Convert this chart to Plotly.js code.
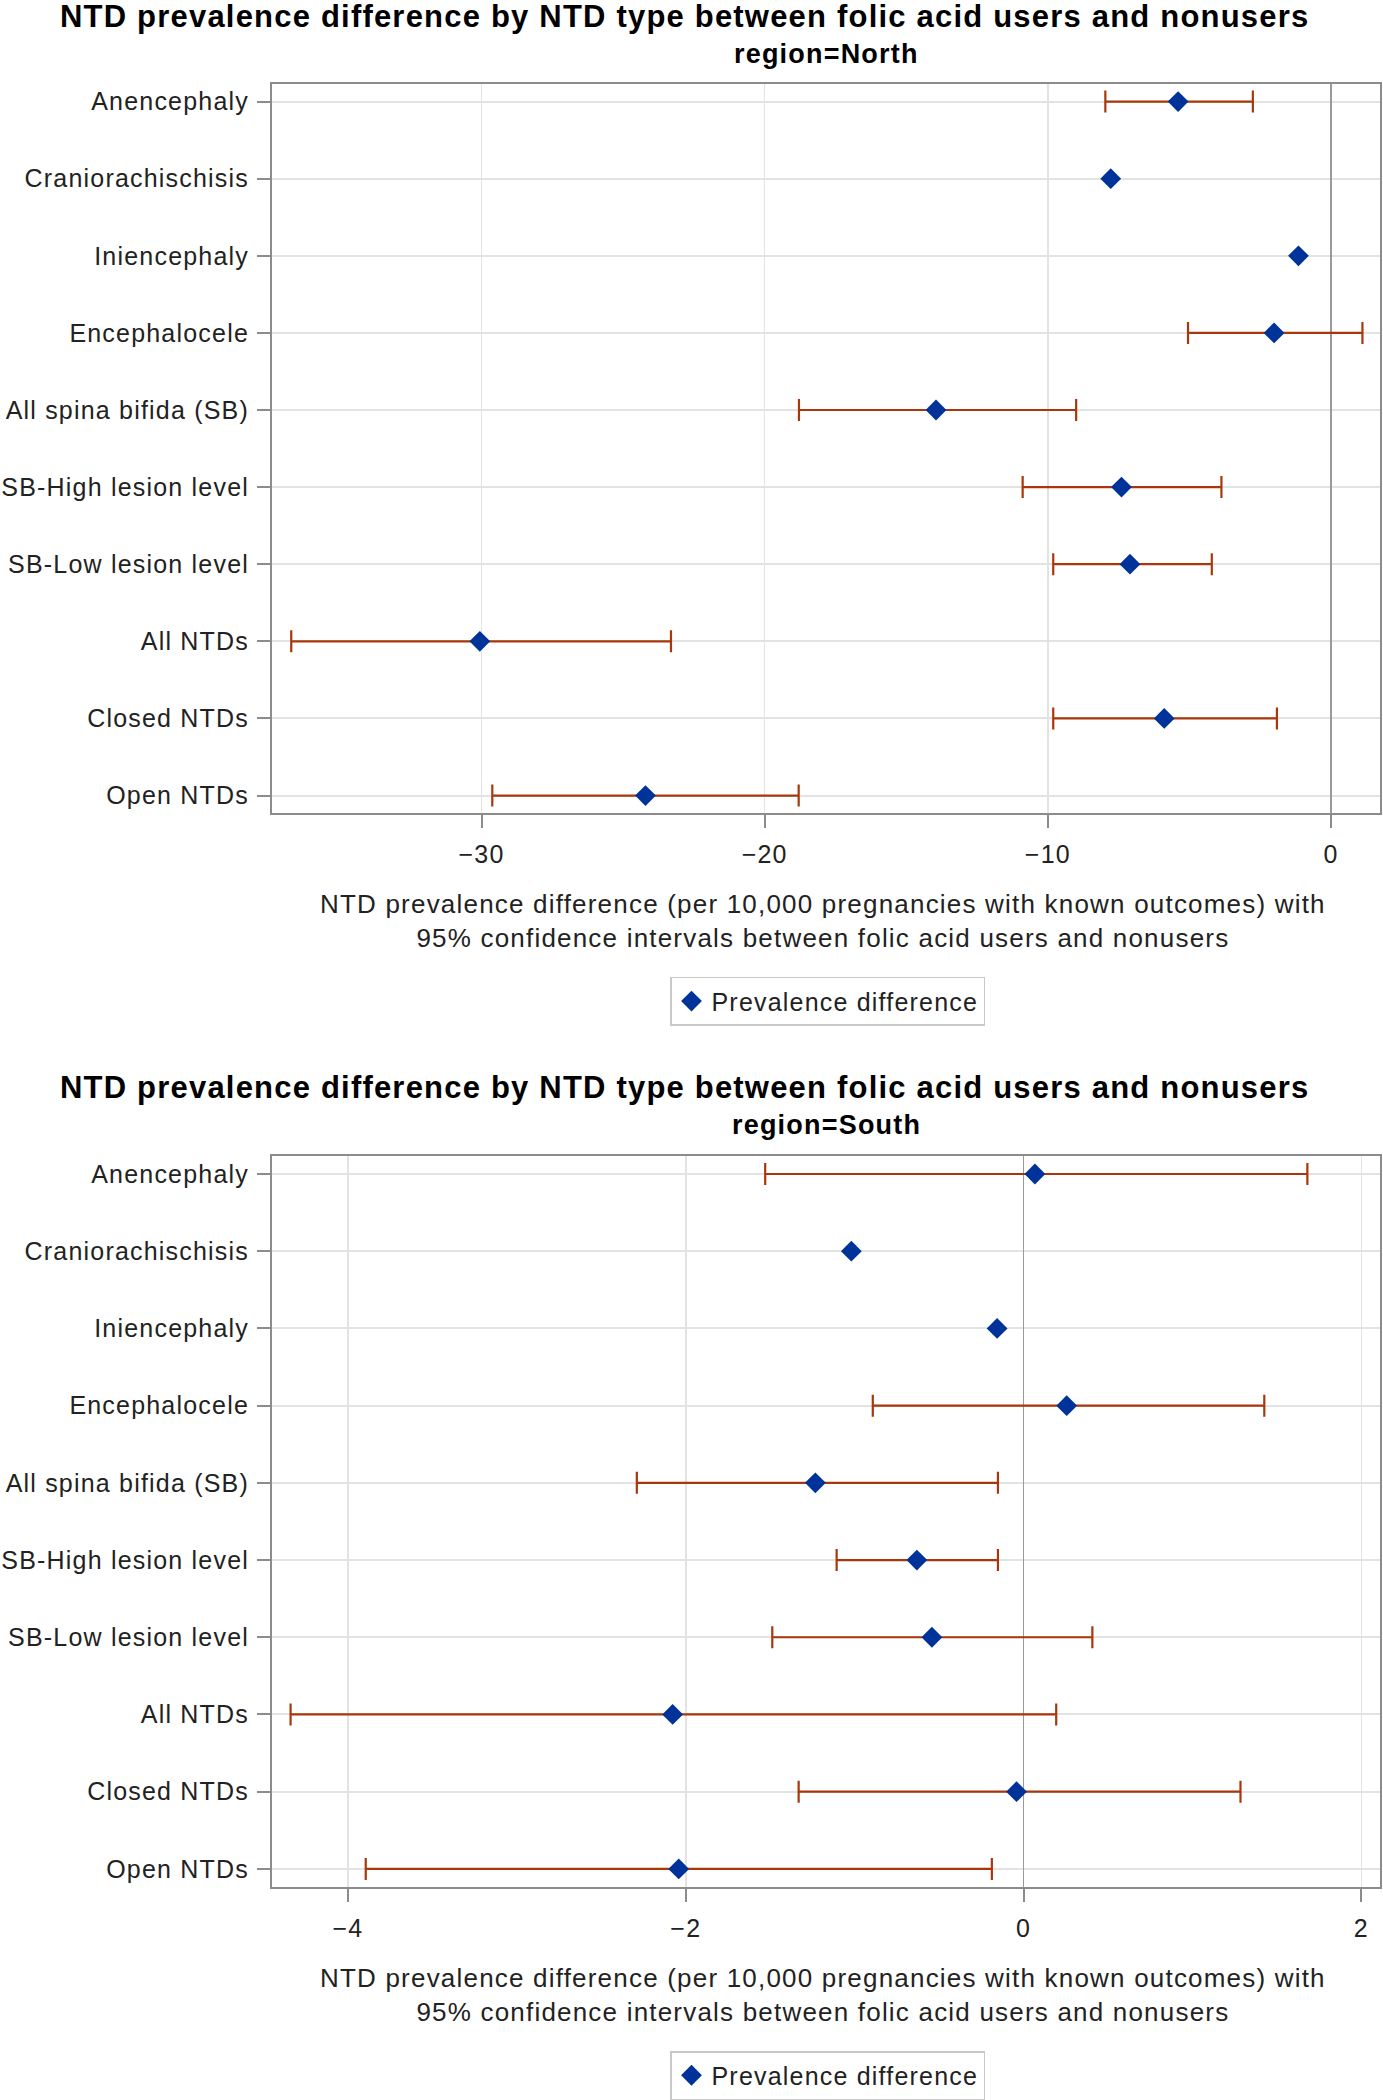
<!DOCTYPE html>
<html>
<head>
<meta charset="utf-8">
<script src="https://cdn.plot.ly/plotly-3.0.1.min.js"></script>
<style>
  html, body { margin:0; padding:0; background:#fff; }
  svg text { letter-spacing: 1.2px; }
</style>
</head>
<body>
<div id="chart" style="width:1383px;height:2100px;"></div>
<script>
// ---- Data ----
const categories = ["Anencephaly", "Craniorachischisis", "Iniencephaly", "Encephalocele",
  "All spina bifida (SB)", "SB-High lesion level", "SB-Low lesion level",
  "All NTDs", "Closed NTDs", "Open NTDs"];

const northEstimate = [-5.40, -7.78, -1.15, -2.01, -13.95, -7.40, -7.10, -30.06, -5.89, -24.21];
const northLower    = [-7.97, null,  null,  -5.05, -18.79, -10.89, -9.81, -36.72, -9.81, -29.62];
const northUpper    = [-2.76, null,  null,   1.11,  -9.00,  -3.87, -4.21, -23.31, -1.91, -18.80];

const southEstimate = [0.067, -1.02, -0.157, 0.255, -1.233, -0.632, -0.543, -2.078, -0.042, -2.042];
const southLower    = [-1.53, null,  null,  -0.893, -2.29, -1.107, -1.488, -4.34, -1.332, -3.895];
const southUpper    = [1.68,  null,  null,   1.425, -0.152, -0.152, 0.407, 0.193, 1.284, -0.188];

const northTicks = [-30, -20, -10, 0];
const southTicks = [-4, -2, 0, 2];

const mainTitle = "NTD prevalence difference by NTD type between folic acid users and nonusers";
const northSub = "region=North";
const southSub = "region=South";
const xTitle = "NTD prevalence difference (per 10,000 pregnancies with known outcomes) with<br>95% confidence intervals between folic acid users and nonusers";
const seriesName = "Prevalence difference";

// ---- Styling ----
const W = 1383, H = 2100;
const FONT = "Liberation Sans, Arial, Helvetica, sans-serif";
const markerColor = "#003399";
const errColor = "#A8380C";
const borderColor = "#8c8c8c";
const gridColor = "#e3e3e3";

function errPlus(est, up) { return est.map((v, i) => up[i] == null ? NaN : up[i] - v); }
function errMinus(est, lo) { return est.map((v, i) => lo[i] == null ? NaN : v - lo[i]); }

function mkTrace(est, lo, up, xa, ya, leg) {
  return {
    type: "scatter", mode: "markers",
    x: est, y: categories, xaxis: xa, yaxis: ya, legend: leg,
    name: seriesName, showlegend: true, hoverinfo: "x+y",
    marker: { symbol: "diamond", size: 16, color: markerColor },
    error_x: { type: "data", symmetric: false, array: errPlus(est, up), arrayminus: errMinus(est, lo),
               color: errColor, thickness: 2.2, width: 11 }
  };
}

const px2x = p => p / W;
const py2y = p => 1 - p / H;

function xAxis(range, ticks, anchor) {
  return {
    domain: [px2x(272), px2x(1380)], anchor: anchor, range: range, autorange: false,
    tickvals: ticks, ticktext: ticks.map(t => t < 0 ? "\u2212" + Math.abs(t) : String(t)),
    ticks: "outside", ticklen: 13, tickwidth: 2, tickcolor: borderColor,
    showline: true, mirror: true, linecolor: borderColor, linewidth: 2,
    showgrid: true, gridcolor: gridColor, gridwidth: 1.5,
    zeroline: true, zerolinecolor: "#9a9a9a", zerolinewidth: 1.5,
    tickfont: { family: FONT, size: 25, color: "#222" }, ticklabelstandoff: 5,
    fixedrange: true
  };
}
function yAxis(top, bottom, anchor) {
  return {
    domain: [py2y(bottom), py2y(top)], anchor: anchor, type: "category",
    categoryorder: "array", categoryarray: categories,
    range: [categories.length - 1 + 0.233, -0.233], autorange: false,
    ticks: "outside", ticklen: 13, tickwidth: 2, tickcolor: borderColor,
    showline: true, mirror: true, linecolor: borderColor, linewidth: 2,
    showgrid: true, gridcolor: gridColor, gridwidth: 2,
    tickfont: { family: FONT, size: 25, color: "#222" }, ticklabelstandoff: 3,
    fixedrange: true
  };
}

function legendAt(xpx, ypx) {
  return {
    x: px2x(xpx), y: py2y(ypx), xanchor: "left", yanchor: "top",
    bordercolor: "#c9c9c9", borderwidth: 1.5, bgcolor: "#fff",
    font: { family: FONT, size: 25, color: "#222" }, itemwidth: 30
  };
}

function ann(text, xpx, ypx, size, bold) {
  return { text: text, xref: "paper", yref: "paper", x: px2x(xpx), y: py2y(ypx),
           xanchor: "center", yanchor: "middle", showarrow: false,
           font: { family: FONT, size: size, color: bold ? "#000" : "#222", weight: bold ? "bold" : "normal" } };
}

const data = [
  mkTrace(northEstimate, northLower, northUpper, "x", "y", "legend"),
  mkTrace(southEstimate, southLower, southUpper, "x2", "y2", "legend2")
];

const layout = {
  width: W, height: H, margin: { l: 0, r: 0, t: 0, b: 0 },
  paper_bgcolor: "#fff", plot_bgcolor: "#fff", showlegend: true,
  xaxis: xAxis([-37.4, 1.73], northTicks, "y"),
  yaxis: yAxis(84, 817, "x"),
  xaxis2: xAxis([-4.45, 2.11], southTicks, "y2"),
  yaxis2: yAxis(1161, 1895, "x2"),
  legend: legendAt(670, 981),
  legend2: legendAt(670, 2060),
  annotations: [
    ann(mainTitle, 684, 17, 31, true),
    ann(northSub, 826, 54, 27, true),
    ann(xTitle, 823, 925, 26, false),
    ann(mainTitle, 684, 1092, 31, true),
    ann(southSub, 826, 1130, 27, true),
    ann(xTitle, 823, 2004, 26, false)
  ]
};

Plotly.newPlot("chart", data, layout, { displayModeBar: false, staticPlot: true });
</script>
</body>
</html>
